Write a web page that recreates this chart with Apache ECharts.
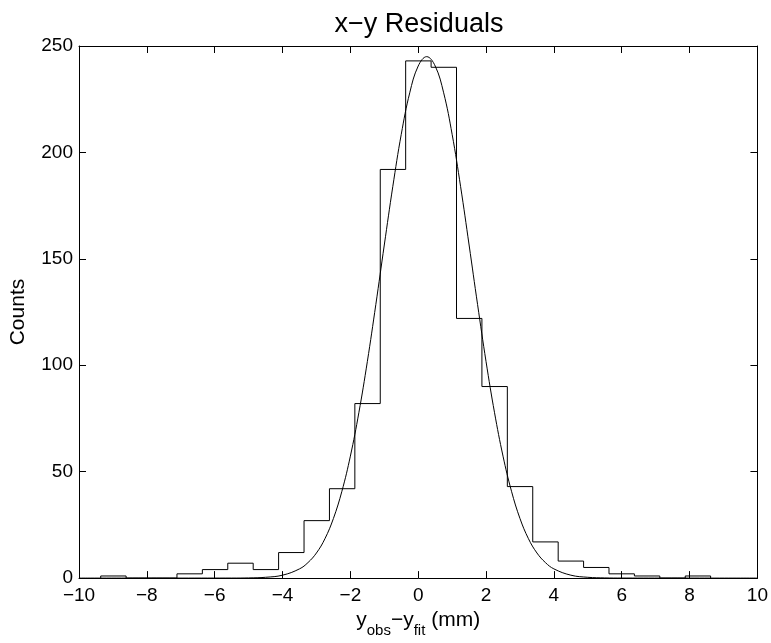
<!DOCTYPE html>
<html>
<head>
<meta charset="utf-8">
<script src="https://cdn.jsdelivr.net/npm/echarts@6/dist/echarts.min.js"></script>
<style>html,body{margin:0;padding:0;background:#fff;}#c{width:771px;height:643px;}</style>
</head>
<body>
<div id="c"></div>
<script>
const binEdges = [-9.36, -8.611, -7.862, -7.112, -6.363, -5.614, -4.865, -4.116, -3.366, -2.617, -1.868, -1.119, -0.370, 0.380, 1.129, 1.878, 2.627, 3.376, 4.126, 4.875, 5.624, 6.373, 7.122, 7.872, 8.62];
const counts = [1, 0, 0, 2, 4, 7, 4, 12, 27, 42, 82, 192, 243, 240, 122, 90, 43, 17, 8, 5, 2, 1, 0, 1];
const fitX = [-10, -5.5, -5, -4.5, -4, -3.5, -3.25, -3, -2.75, -2.5, -2.25, -2, -1.75, -1.5, -1.25, -1, -0.75, -0.5, -0.25, 0, 0.25, 0.5, 0.75, 1, 1.25, 1.5, 1.75, 2, 2.25, 2.5, 2.75, 3, 3.25, 3.5, 3.75, 4, 4.5, 5, 5.5, 6, 10];
const fitY = [0, 0.02, 0.09, 0.38, 1.37, 4.33, 7.29, 11.8, 18.5, 28.0, 40.8, 57.3, 77.7, 101.7, 128.5, 156.5, 183.9, 208.5, 228.0, 240.6, 245, 240.6, 228.0, 208.5, 183.9, 156.5, 128.5, 101.7, 77.7, 57.3, 40.8, 28.0, 18.5, 11.8, 7.29, 4.33, 1.37, 0.38, 0.09, 0.02, 0];
const xTicks = {min: -10, max: 10, step: 2};
const yTicks = {min: 0, max: 250, step: 50};
const titleText = 'x\u2212y Residuals';
const yLabel = 'Counts';

// step outline data
const stepData = [[binEdges[0], 0]];
for (let i = 0; i < counts.length; i++) stepData.push([binEdges[i + 1], counts[i]]);
stepData.push([binEdges[binEdges.length - 1], 0]);
const fitData = fitX.map((x, i) => [x, fitY[i]]);

const FONT = '"Liberation Sans", Arial, sans-serif';
const fmt = v => String(v).replace('-', '\u2212');
const axisCommon = {
  axisLine: {show: true, onZero: false, lineStyle: {color: '#000', width: 1}},
  axisTick: {show: true, inside: true, length: 7, lineStyle: {color: '#000', width: 1}},
  splitLine: {show: false}
};
const chart = echarts.init(document.getElementById('c'), null, {renderer: 'canvas'});
chart.setOption({
  animation: false,
  backgroundColor: '#fff',
  title: {
    text: titleText, left: 414, top: 6, textAlign: 'center',
    textStyle: {fontFamily: FONT, fontSize: 27, fontWeight: 'normal', color: '#000'}
  },
  grid: {left: 70, right: 13, top: 46, bottom: 55, containLabel: false},
  xAxis: [
    Object.assign({
      type: 'value', position: 'bottom', min: xTicks.min, max: xTicks.max, interval: xTicks.step,
      axisLabel: {show: true, margin: 8, color: '#000', fontFamily: FONT, fontSize: 19, formatter: fmt},
      name: '{m|y}{s|obs}{m|\u2212y}{s|fit}{m| (mm)}', nameLocation: 'middle', nameGap: 31,
      nameTextStyle: {
        rich: {
          m: {fontFamily: FONT, fontSize: 21, color: '#000', verticalAlign: 'bottom'},
          s: {fontFamily: FONT, fontSize: 15, color: '#000', verticalAlign: 'bottom', padding: [0, 0, -7, 0]}
        }
      }
    }, axisCommon),
    Object.assign({
      type: 'value', position: 'top', min: xTicks.min, max: xTicks.max, interval: xTicks.step,
      axisLabel: {show: false}
    }, axisCommon)
  ],
  yAxis: [
    Object.assign({
      type: 'value', position: 'left', min: yTicks.min, max: yTicks.max, interval: yTicks.step,
      axisLabel: {show: true, margin: 6, color: '#000', fontFamily: FONT, fontSize: 19, formatter: fmt},
      name: yLabel, nameLocation: 'middle', nameGap: 50, nameRotate: 90,
      nameTextStyle: {fontFamily: FONT, fontSize: 21, color: '#000'}
    }, axisCommon),
    Object.assign({
      type: 'value', position: 'right', min: yTicks.min, max: yTicks.max, interval: yTicks.step,
      axisLabel: {show: false}
    }, axisCommon)
  ],
  series: [
    {
      type: 'line', xAxisIndex: 0, yAxisIndex: 0, data: stepData, step: 'start',
      symbol: 'none', lineStyle: {color: '#000', width: 1}, z: 3
    },
    {
      type: 'line', xAxisIndex: 0, yAxisIndex: 0, data: fitData, smooth: 0.4,
      symbol: 'none', lineStyle: {color: '#000', width: 1}, z: 4
    }
  ]
});
</script>
</body>
</html>
